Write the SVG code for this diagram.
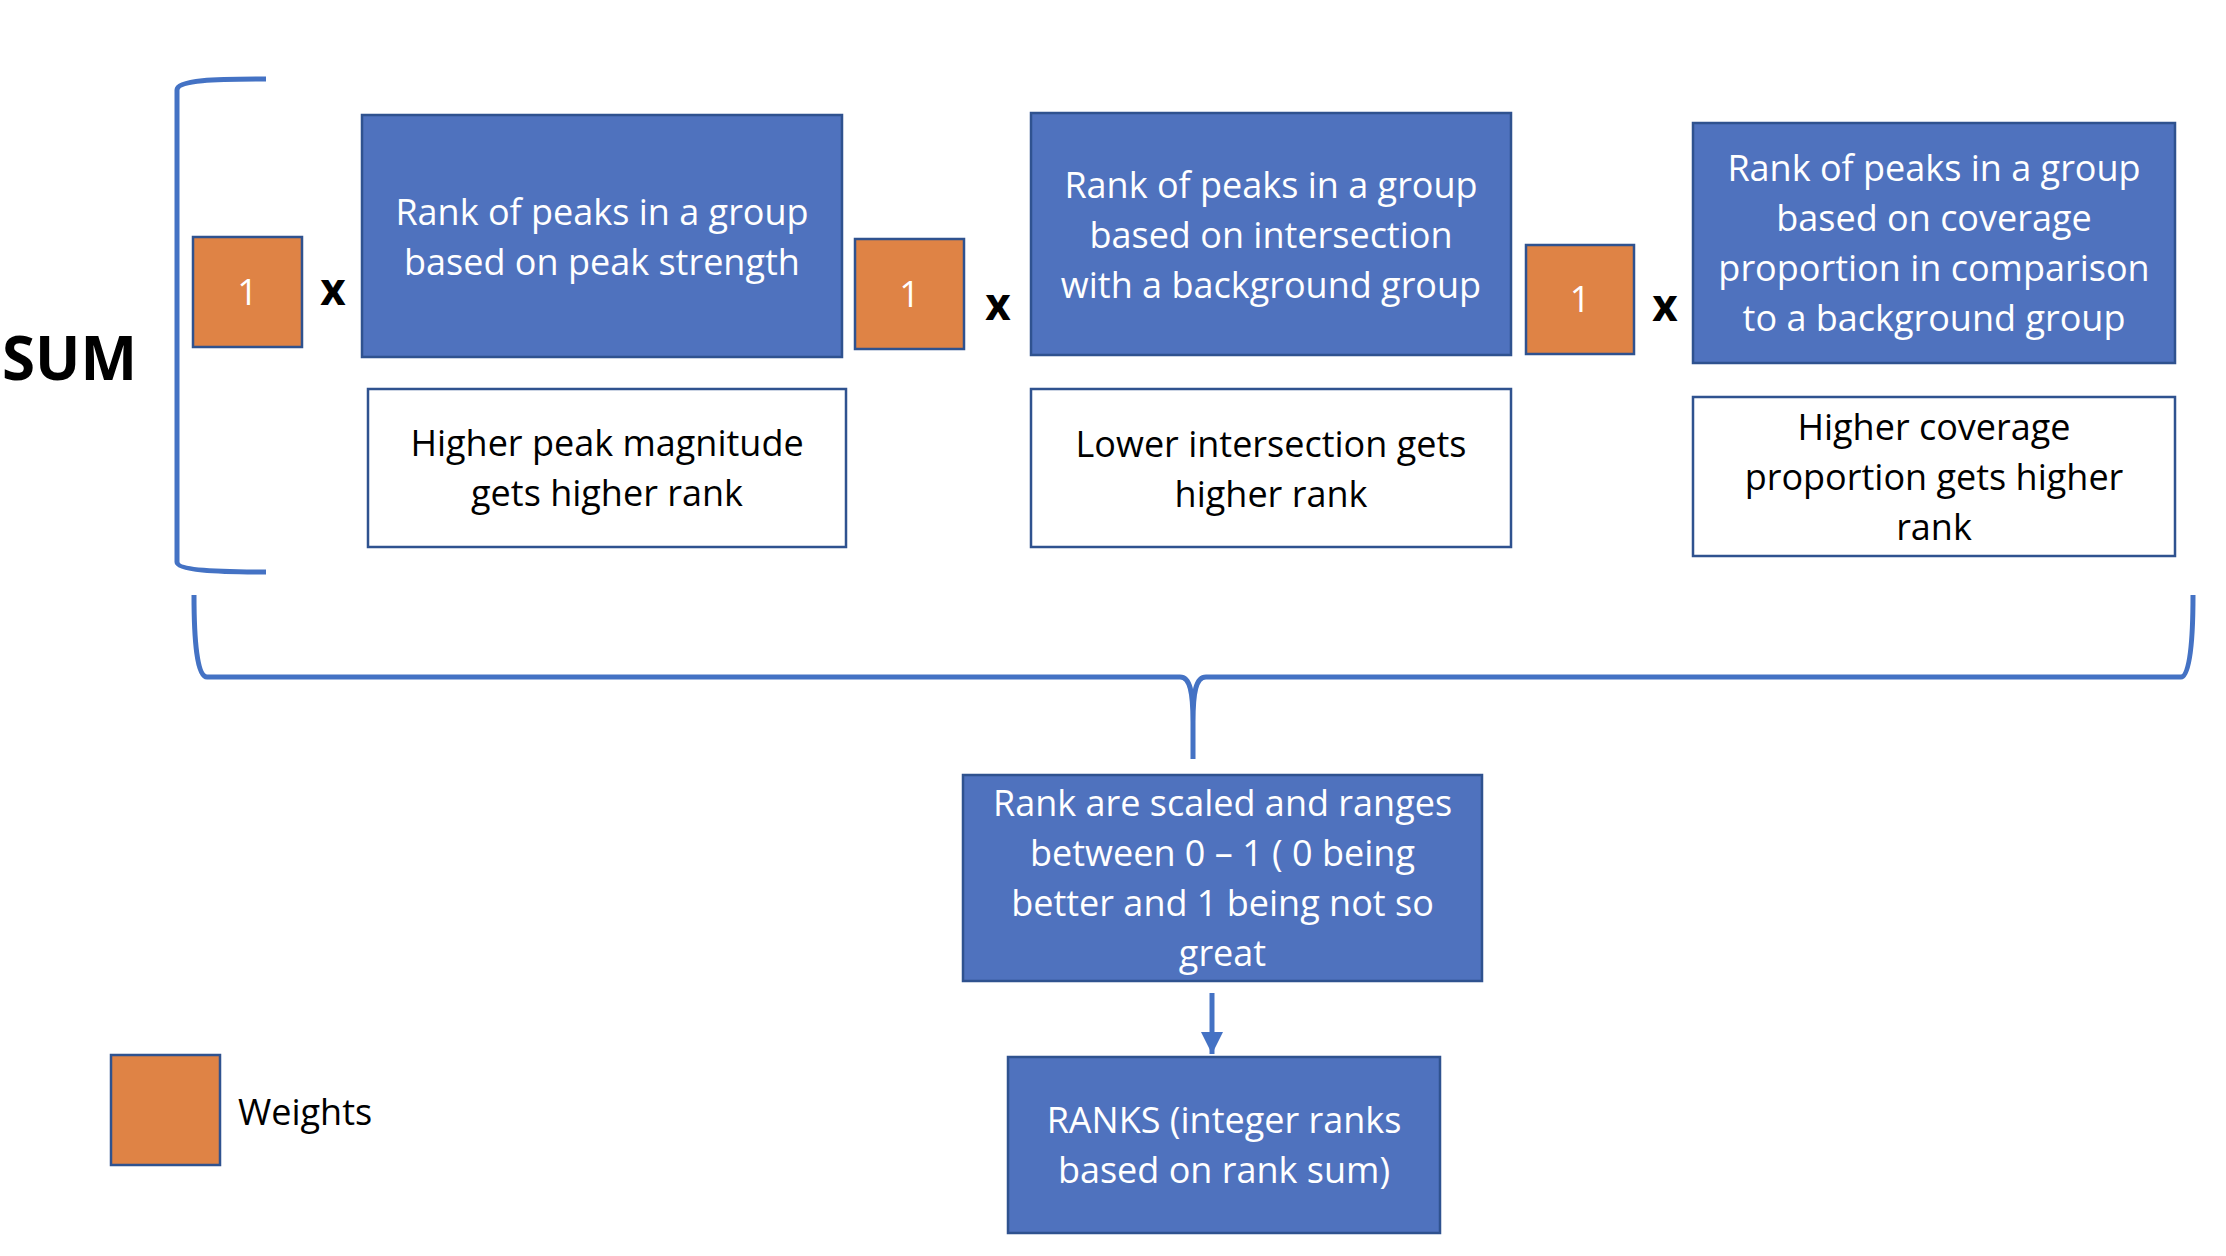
<svg xmlns="http://www.w3.org/2000/svg" width="2226" height="1256" viewBox="0 0 2226 1256">
<style>
.blue{fill:#4F72BE;stroke:#2F528F;stroke-width:2.5}
.white{fill:#FFFFFF;stroke:#2F528F;stroke-width:2.5}
.wt{fill:#DF8345;stroke:#2F528F;stroke-width:2.5}
.tw{font-family:"Open Sans","Liberation Sans",sans-serif;font-size:36px;fill:#FFFFFF;text-anchor:middle}
.tb{font-family:"Open Sans","Liberation Sans",sans-serif;font-size:36px;fill:#000000;text-anchor:middle}
.op{font-family:"Open Sans","Liberation Sans",sans-serif;font-size:44px;font-weight:bold;fill:#000000;text-anchor:middle}
.brk{fill:none;stroke:#4472C4;stroke-width:5;stroke-linecap:butt}
</style>
<defs>
<marker id="ah" markerUnits="userSpaceOnUse" markerWidth="24" markerHeight="22" refX="22" refY="11" orient="auto">
<path d="M0,0 L22,11 L0,22 Z" fill="#4472C4"/>
</marker>
</defs>
<rect width="2226" height="1256" fill="#FFFFFF"/>

<g id="connectors">
<path id="left-bracket" class="brk" d="M266,79 C215,79 177,80 177,90 L177,562 C177,570 215,572 266,572"/>
<path id="bottom-brace" class="brk" d="M194,595 C194,640 197,677 207,677 L1180,677 C1190,677 1193,692 1193,722 L1193,759 M1193,722 C1193,692 1196,677 1206,677 L2181,677 C2190,677 2193,640 2193,595"/>
<line id="arrow" x1="1212" y1="993" x2="1212" y2="1054" stroke="#4472C4" stroke-width="5" marker-end="url(#ah)"/>
</g>

<g id="sum-label">
<text x="2" y="380" font-family="'Open Sans','Liberation Sans',sans-serif" font-size="60" font-weight="bold" fill="#000000">SUM</text>
</g>

<g id="weight1">
<rect class="wt" x="193" y="237" width="109" height="110"/>
<text class="tw" x="247.5" y="305">1</text>
</g>
<g id="times1"><text class="op" x="333" y="305">x</text></g>
<g id="rank-strength">
<rect class="blue" x="362" y="115" width="480" height="242"/>
<text class="tw" x="602" y="224.5">Rank of peaks in a group</text>
<text class="tw" x="602" y="274.5">based on peak strength</text>
</g>
<g id="note-strength">
<rect class="white" x="368" y="389" width="478" height="158"/>
<text class="tb" x="607" y="456">Higher peak magnitude</text>
<text class="tb" x="607" y="506">gets higher rank</text>
</g>

<g id="weight2">
<rect class="wt" x="855" y="239" width="109" height="110"/>
<text class="tw" x="909.5" y="307">1</text>
</g>
<g id="times2"><text class="op" x="998" y="320">x</text></g>
<g id="rank-intersection">
<rect class="blue" x="1031" y="113" width="480" height="242"/>
<text class="tw" x="1271" y="197.5">Rank of peaks in a group</text>
<text class="tw" x="1271" y="247.5">based on intersection</text>
<text class="tw" x="1271" y="297.5">with a background group</text>
</g>
<g id="note-intersection">
<rect class="white" x="1031" y="389" width="480" height="158"/>
<text class="tb" x="1271" y="456.5">Lower intersection gets</text>
<text class="tb" x="1271" y="506.5">higher rank</text>
</g>

<g id="weight3">
<rect class="wt" x="1526" y="245" width="108" height="109"/>
<text class="tw" x="1580" y="312">1</text>
</g>
<g id="times3"><text class="op" x="1665" y="321">x</text></g>
<g id="rank-coverage">
<rect class="blue" x="1693" y="123" width="482" height="240"/>
<text class="tw" x="1934" y="181">Rank of peaks in a group</text>
<text class="tw" x="1934" y="231">based on coverage</text>
<text class="tw" x="1934" y="281">proportion in comparison</text>
<text class="tw" x="1934" y="331">to a background group</text>
</g>
<g id="note-coverage">
<rect class="white" x="1693" y="397" width="482" height="159"/>
<text class="tb" x="1934" y="440">Higher coverage</text>
<text class="tb" x="1934" y="490">proportion gets higher</text>
<text class="tb" x="1934" y="540">rank</text>
</g>

<g id="scaled">
<rect class="blue" x="963" y="775" width="519" height="206"/>
<text class="tw" x="1222.5" y="816">Rank are scaled and ranges</text>
<text class="tw" x="1222.5" y="866">between 0 – 1 ( 0 being</text>
<text class="tw" x="1222.5" y="916">better and 1 being not so</text>
<text class="tw" x="1222.5" y="966">great</text>
</g>

<g id="ranks">
<rect class="blue" x="1008" y="1057" width="432" height="176"/>
<text class="tw" x="1224" y="1133">RANKS (integer ranks</text>
<text class="tw" x="1224" y="1183">based on rank sum)</text>
</g>

<g id="legend">
<rect class="wt" x="111" y="1055" width="109" height="110"/>
<text x="238" y="1125" font-family="'Open Sans','Liberation Sans',sans-serif" font-size="36" fill="#000000">Weights</text>
</g>
</svg>
